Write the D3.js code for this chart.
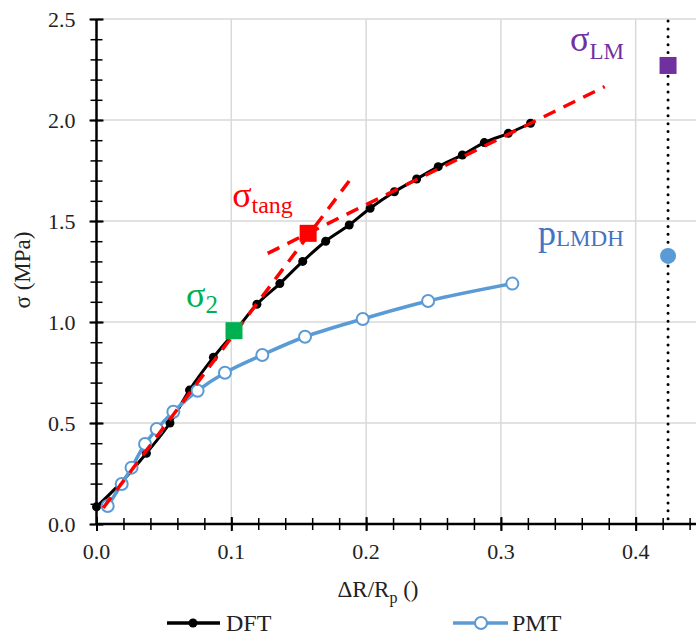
<!DOCTYPE html>
<html><head><meta charset="utf-8">
<script src="https://cdn.jsdelivr.net/npm/d3@7"></script>
<style>body{margin:0;background:#fff}svg{display:block}</style>
</head><body>
<svg id="c" width="696" height="636"></svg>
<script>
// ---- data ----
const dftX = [0.000, 0.0175, 0.037, 0.0545, 0.069, 0.0867, 0.103, 0.119, 0.136, 0.153, 0.170, 0.1875, 0.203, 0.221, 0.2375, 0.2535, 0.2714, 0.2877, 0.3055, 0.322];
const dftY = [0.085, 0.20, 0.35, 0.50, 0.663, 0.825, 0.955, 1.088, 1.19, 1.30, 1.40, 1.48, 1.563, 1.645, 1.708, 1.769, 1.827, 1.888, 1.934, 1.984];
const pmtX = [0.0083, 0.0187, 0.026, 0.036, 0.0447, 0.057, 0.075, 0.0953, 0.123, 0.1547, 0.1975, 0.246, 0.3085];
const pmtY = [0.089, 0.198, 0.279, 0.396, 0.47, 0.556, 0.66, 0.749, 0.837, 0.927, 1.015, 1.104, 1.19];
const steepX = [0.005, 0.188];
const steepY = [0.08, 1.703];
const shallowX = [0.127, 0.377];
const shallowY = [1.34, 2.165];
const sigma2 = [0.102, 0.957];
const sigmaTang = [0.157, 1.439];
const sigmaLM = [0.424, 2.27];
const pLMDH = [0.424, 1.327];
const limitX = 0.424;
const xTicks = [0, 0.1, 0.2, 0.3, 0.4];
const yTicks = [0, 0.5, 1.0, 1.5, 2.0, 2.5];
const xMinorTicks = d3.range(0, 0.4401, 0.02);
const yMinorTicks = d3.range(0, 2.501, 0.1);
const seriesNames = ["DFT", "PMT"];

// ---- setup ----
const FONT = '"Liberation Serif"';
const svg = d3.select("#c");
const x = d3.scaleLinear().domain([0, 0.45]).range([96.5, 96.5 + 0.45 * 1348]);
const y = d3.scaleLinear().domain([0, 2.5]).range([524, 19]);

function txt(sel, size) {
  return sel.style("font-family", FONT).style("font-size", size + "px");
}

// gridlines
const g = svg.append("g");
g.selectAll(".vg").data(xTicks.slice(1)).enter().append("line")
  .attr("x1", d => x(d)).attr("x2", d => x(d)).attr("y1", y(0)).attr("y2", y(2.5))
  .attr("stroke", "#d9d9d9").attr("stroke-width", 1.5);
g.selectAll(".hg").data(yTicks.slice(1)).enter().append("line")
  .attr("x1", x(0)).attr("x2", 696).attr("y1", d => y(d)).attr("y2", d => y(d))
  .attr("stroke", "#d9d9d9").attr("stroke-width", 1.5);

// axes (ticks via d3.axis, labels drawn as own text)
const xAxis = d3.axisBottom(x).tickValues(xMinorTicks).tickSize(6).tickFormat("");
const xa = svg.append("g").attr("transform", `translate(0,${y(0)})`).call(xAxis);
xa.select(".domain").remove();
xa.selectAll(".tick line").attr("y1", -6).attr("stroke", "#000").attr("stroke-width", 1.5);
const xMaj = d3.axisBottom(x).tickValues(xTicks).tickSize(7).tickFormat("");
const xm = svg.append("g").attr("transform", `translate(0,${y(0)})`).call(xMaj);
xm.select(".domain").remove();
xm.selectAll(".tick line").attr("y1", -7).attr("stroke", "#000").attr("stroke-width", 2);
txt(svg.append("g").selectAll("text").data(xTicks).enter().append("text")
  .attr("x", d => x(d)).attr("y", y(0) + 35).attr("text-anchor", "middle").attr("fill", "#222")
  .text(d => d3.format(".1f")(d)), 22);

const yAxis = d3.axisLeft(y).tickValues(yMinorTicks).tickSize(6).tickFormat("");
const ya = svg.append("g").attr("transform", `translate(${x(0)},0)`).call(yAxis);
ya.select(".domain").remove();
ya.selectAll(".tick line").attr("x1", 6).attr("stroke", "#000").attr("stroke-width", 1.5);
const yMaj = d3.axisLeft(y).tickValues(yTicks).tickSize(7).tickFormat("");
const ym = svg.append("g").attr("transform", `translate(${x(0)},0)`).call(yMaj);
ym.select(".domain").remove();
ym.selectAll(".tick line").attr("x1", 7).attr("stroke", "#000").attr("stroke-width", 2);
txt(svg.append("g").selectAll("text").data(yTicks).enter().append("text")
  .attr("x", x(0) - 21).attr("y", d => y(d) + 7.5).attr("text-anchor", "end").attr("fill", "#222")
  .text(d => d3.format(".1f")(d)), 22);

svg.append("line").attr("x1", x(0)).attr("x2", 696).attr("y1", y(0)).attr("y2", y(0)).attr("stroke", "#000").attr("stroke-width", 2.5);
svg.append("line").attr("x1", x(0)).attr("x2", x(0)).attr("y1", y(0)).attr("y2", y(2.5)).attr("stroke", "#000").attr("stroke-width", 2.5);

// axis titles
const xt = txt(svg.append("text").attr("x", 378).attr("y", 597).attr("text-anchor", "middle").attr("fill", "#222"), 23);
xt.append("tspan").text("ΔR/R");
txt(xt.append("tspan").attr("dy", 6), 16).text("p");
xt.append("tspan").attr("dy", -6).text(" ()");
txt(svg.append("text").attr("transform", "translate(30,270) rotate(-90)").attr("text-anchor", "middle")
  .attr("fill", "#222"), 23).text("σ (MPa)");

// dotted limit line
svg.append("line").attr("x1", x(limitX)).attr("x2", x(limitX)).attr("y1", y(2.5) + 2).attr("y2", y(0) - 2)
  .attr("stroke", "#000").attr("stroke-width", 3).attr("stroke-linecap", "round").attr("stroke-dasharray", "0 7.9");

// DFT series
const dft = dftX.map((v, i) => [v, dftY[i]]);
const pmt = pmtX.map((v, i) => [v, pmtY[i]]);
const line = d3.line().x(d => x(d[0])).y(d => y(d[1])).curve(d3.curveCatmullRom.alpha(0.5));
svg.append("path").attr("d", line(dft)).attr("fill", "none").attr("stroke", "#000").attr("stroke-width", 3);
svg.selectAll(".dft").data(dft).enter().append("circle")
  .attr("cx", d => x(d[0])).attr("cy", d => y(d[1])).attr("r", 4.5).attr("fill", "#000");

// PMT series
svg.append("path").attr("d", line(pmt)).attr("fill", "none").attr("stroke", "#5b9bd5").attr("stroke-width", 3.5);
svg.selectAll(".pmt").data(pmt).enter().append("circle")
  .attr("cx", d => x(d[0])).attr("cy", d => y(d[1])).attr("r", 6).attr("fill", "#fff")
  .attr("stroke", "#5b9bd5").attr("stroke-width", 2);

// tangent dashed lines
const straight = d3.line().x(d => x(d[0])).y(d => y(d[1]));
[[steepX, steepY], [shallowX, shallowY]].forEach(([xs, ys]) => {
  svg.append("path").attr("d", straight(xs.map((v, i) => [v, ys[i]])))
    .attr("fill", "none").attr("stroke", "#ff0000").attr("stroke-width", 3.5).attr("stroke-dasharray", "13 9");
});

// markers
const sq = 17;
[[sigma2, "#00b050"], [sigmaTang, "#ff0000"], [sigmaLM, "#7030a0"]].forEach(([p, c]) => {
  svg.append("rect").attr("x", x(p[0]) - sq / 2).attr("y", y(p[1]) - sq / 2).attr("width", sq).attr("height", sq).attr("fill", c);
});
svg.append("circle").attr("cx", x(pLMDH[0])).attr("cy", y(pLMDH[1])).attr("r", 8).attr("fill", "#5b9bd5");

// annotation labels
function label(px, py, main, sub, color, mainSize, subSize, dy) {
  const t = svg.append("text").attr("x", px).attr("y", py).attr("fill", color);
  txt(t.append("tspan"), mainSize).text(main);
  txt(t.append("tspan").attr("dy", dy), subSize).text(sub);
}
label(x(sigma2[0]) - 48, y(sigma2[1]) - 24, "σ", "2", "#00b050", 36, 25, 6);
label(x(sigmaTang[0]) - 76, y(sigmaTang[1]) - 26, "σ", "tang", "#ff0000", 36, 24, 6);
label(x(sigmaLM[0]) - 98, y(sigmaLM[1]) - 14, "σ", "LM", "#7030a0", 36, 23, 8);
label(x(pLMDH[0]) - 130, y(pLMDH[1]) - 11, "p", "LMDH", "#4472c4", 36, 23, 1);

// legend
const leg = svg.append("g");
leg.append("line").attr("x1", 167).attr("x2", 220).attr("y1", 623).attr("y2", 623).attr("stroke", "#000").attr("stroke-width", 3.5);
leg.append("circle").attr("cx", 193).attr("cy", 623).attr("r", 4.5).attr("fill", "#000");
txt(leg.append("text").attr("x", 226).attr("y", 631).attr("fill", "#222"), 24).text(seriesNames[0]);
leg.append("line").attr("x1", 453).attr("x2", 508).attr("y1", 623).attr("y2", 623).attr("stroke", "#5b9bd5").attr("stroke-width", 3.5);
leg.append("circle").attr("cx", 481).attr("cy", 623).attr("r", 6).attr("fill", "#fff").attr("stroke", "#5b9bd5").attr("stroke-width", 2);
txt(leg.append("text").attr("x", 512).attr("y", 631).attr("fill", "#222"), 24).text(seriesNames[1]);
</script>
</body></html>
